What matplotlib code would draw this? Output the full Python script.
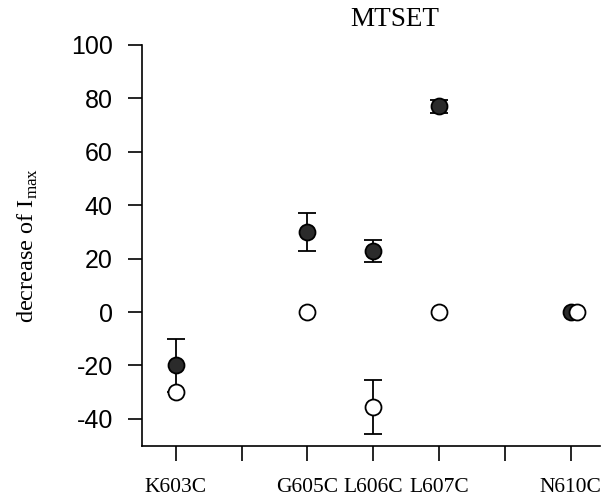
import matplotlib
matplotlib.use('Agg')
import matplotlib.pyplot as plt

plt.rcParams['axes.unicode_minus'] = False
plt.rcParams['mathtext.fontset'] = 'custom'
plt.rcParams['mathtext.rm'] = 'Liberation Serif'

# mutant positions along x (608/609 collapsed into one unlabeled tick)
tick_pos = [1, 2, 3, 4, 5, 6, 7]
tick_labels = ['K603C', '', 'G605C', 'L606C', 'L607C', '', 'N610C']
y_ticks = [-40, -20, 0, 20, 40, 60, 80, 100]

# filled circles
filled_x = [1, 3, 4, 5, 7.0]
filled_y = [-20, 30, 22.8, 77, 0]
filled_err = [10, 7, 4, 2.5, 0]

# open circles
open_x = [1, 3, 4, 5, 7.09]
open_y = [-30, 0, -35.5, 0, 0]
open_err = [0, 0, 10, 0, 0]

fig = plt.figure(figsize=(6.03, 4.99), dpi=100)
ax = fig.add_axes([0.2355, 0.107, 0.76, 0.803])


def draw(xs, ys, errs, face, z):
    # error bars only where there is a spread
    ex = [x for x, e in zip(xs, errs) if e > 0]
    ey = [y for y, e in zip(ys, errs) if e > 0]
    ee = [e for e in errs if e > 0]
    ax.errorbar(ex, ey, yerr=ee, fmt='none', ecolor='black', capsize=6.5,
                elinewidth=1.3, capthick=1.3, zorder=z)
    ax.plot(xs, ys, 'o', mfc=face, mec='black', ms=11.5, mew=1.3,
            zorder=z + 0.5)


draw(filled_x, filled_y, filled_err, '#2b2b2b', 2)
draw(open_x, open_y, open_err, 'white', 3)

ax.set_xlim(0.485, 7.45)
ax.set_ylim(-50, 100)
ax.set_yticks(y_ticks)
ax.set_xticks(tick_pos)

ax.spines['top'].set_visible(False)
ax.spines['right'].set_visible(False)
ax.spines['left'].set_linewidth(1.2)
ax.spines['bottom'].set_linewidth(1.2)
ax.tick_params(axis='y', direction='out', length=10, width=1.2, pad=11)
ax.tick_params(axis='x', direction='out', length=11, width=1.2, pad=12)

ax.set_xticklabels(tick_labels, family='Liberation Serif', fontsize=15.5)
ax.set_yticklabels([str(v) for v in y_ticks], family='Liberation Sans',
                   fontsize=18)

ax.set_ylabel('decrease of I$_{\\mathrm{max}}$', family='Liberation Serif',
              fontsize=17.5)
ax.yaxis.set_label_coords(-0.222, 0.5)
fig.text(0.655, 0.96, 'MTSET', family='Liberation Serif', fontsize=19.5,
         ha='center', va='center')

fig.savefig('out.png', dpi=100)
